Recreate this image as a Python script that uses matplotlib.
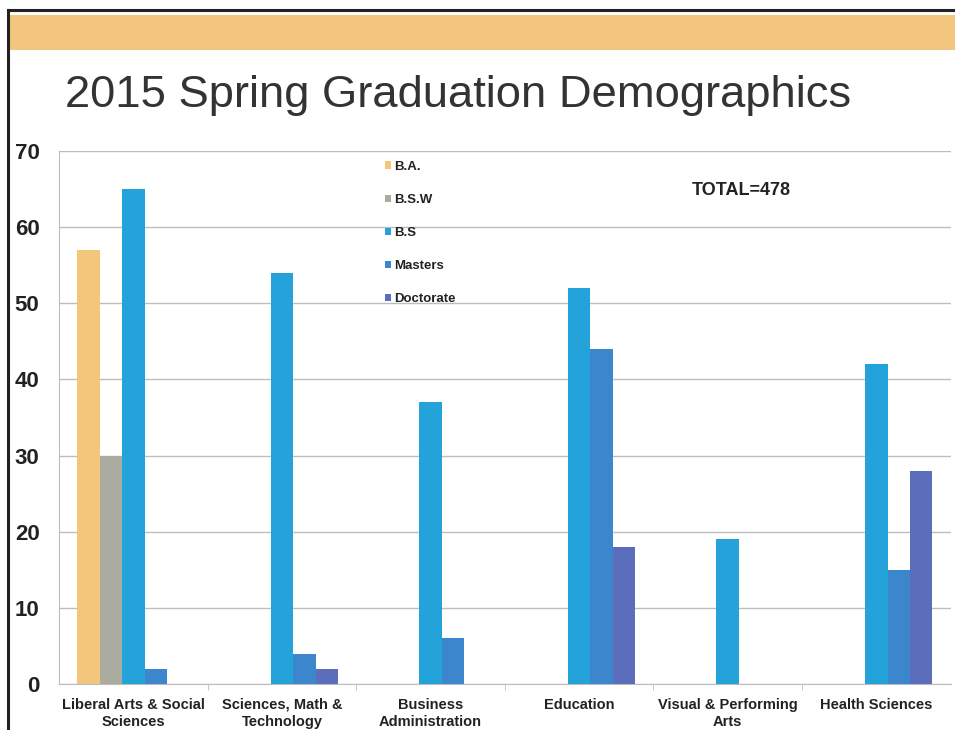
import matplotlib.pyplot as plt
import matplotlib.patches as mpatches
import matplotlib.lines as mlines
import numpy as np

plt.rcParams['font.family'] = 'Liberation Sans'

# Graduates per college, by degree type
colleges = ['Liberal Arts & Social\nSciences', 'Sciences, Math &\nTechnology',
            'Business\nAdministration', 'Education',
            'Visual & Performing\nArts', 'Health Sciences']
degrees = ['B.A.', 'B.S.W', 'B.S', 'Masters', 'Doctorate']
ba = [57, 0, 0, 0, 0, 0]
bsw = [30, 0, 0, 0, 0, 0]
bs = [65, 54, 37, 52, 19, 42]
masters = [2, 4, 6, 44, 0, 15]
doctorate = [0, 2, 0, 18, 0, 28]
total_label = 'TOTAL=478'

series = [ba, bsw, bs, masters, doctorate]
colors = ['#F2C77C', '#ABACA0', '#24A3DB', '#3B86CC', '#5C6EBB']

fig = plt.figure(figsize=(9.55, 7.3), dpi=100)

# slide frame and header band
fig.add_artist(mlines.Line2D([8/955, 8/955], [0, 1 - 10/730], color='#222222', lw=2.2,
                             transform=fig.transFigure))
fig.add_artist(mlines.Line2D([8/955, 1], [1 - 10/730, 1 - 10/730], color='#222222', lw=2.2,
                             transform=fig.transFigure))
fig.add_artist(mpatches.Rectangle((10/955, 1 - 50/730), 1, 35/730, color='#F2C67F',
                                  transform=fig.transFigure, lw=0))
fig.text(65/955, 1 - 95/730, '2015 Spring Graduation Demographics', fontsize=32.7,
         color='#333333', va='center', ha='left')

ax = fig.add_axes([59/955, 1 - 684/730, 891.6/955, 533/730])
x = np.arange(len(colleges))
w = 0.151
for i, (vals, c) in enumerate(zip(series, colors)):
    ax.bar(x + (i - 2) * w, vals, width=w, color=c, label=degrees[i], zorder=3)

ax.set_xlim(-0.5, len(colleges) - 0.5)
ax.set_ylim(0, 70)
ax.set_yticks(range(0, 71, 10))
ax.yaxis.grid(True, color='#BDBDBD', lw=1, zorder=0)
ax.tick_params(axis='y', length=0, pad=14, labelsize=16, labelcolor='#222222')
for lab in ax.get_yticklabels():
    lab.set_fontweight('bold')
ax.set_xticks(x)
ax.set_xticklabels(colleges, fontsize=10.5, fontweight='bold', linespacing=1.25,
                   color='#222222')
ax.tick_params(axis='x', length=0, pad=10)
ax.set_xticks(np.arange(0.5, len(colleges) - 0.5), minor=True)
ax.tick_params(axis='x', which='minor', length=4, color='#BDBDBD', direction='out')
for s in ['top', 'right']:
    ax.spines[s].set_visible(False)
for s in ['left', 'bottom']:
    ax.spines[s].set_color('#BDBDBD')

leg = ax.legend(loc='upper left', bbox_to_anchor=(0.352, 1.004), frameon=False,
                prop={'size': 9.5, 'weight': 'bold'}, handlelength=0.45, handleheight=0.45,
                handletextpad=0.3, labelspacing=1.6)
for t in leg.get_texts():
    t.set_color('#222222')

ax.text(0.71, 0.925, total_label, transform=ax.transAxes, fontsize=13,
        fontweight='bold', color='#222222', ha='left', va='center')

fig.savefig('out.png', dpi=100)
